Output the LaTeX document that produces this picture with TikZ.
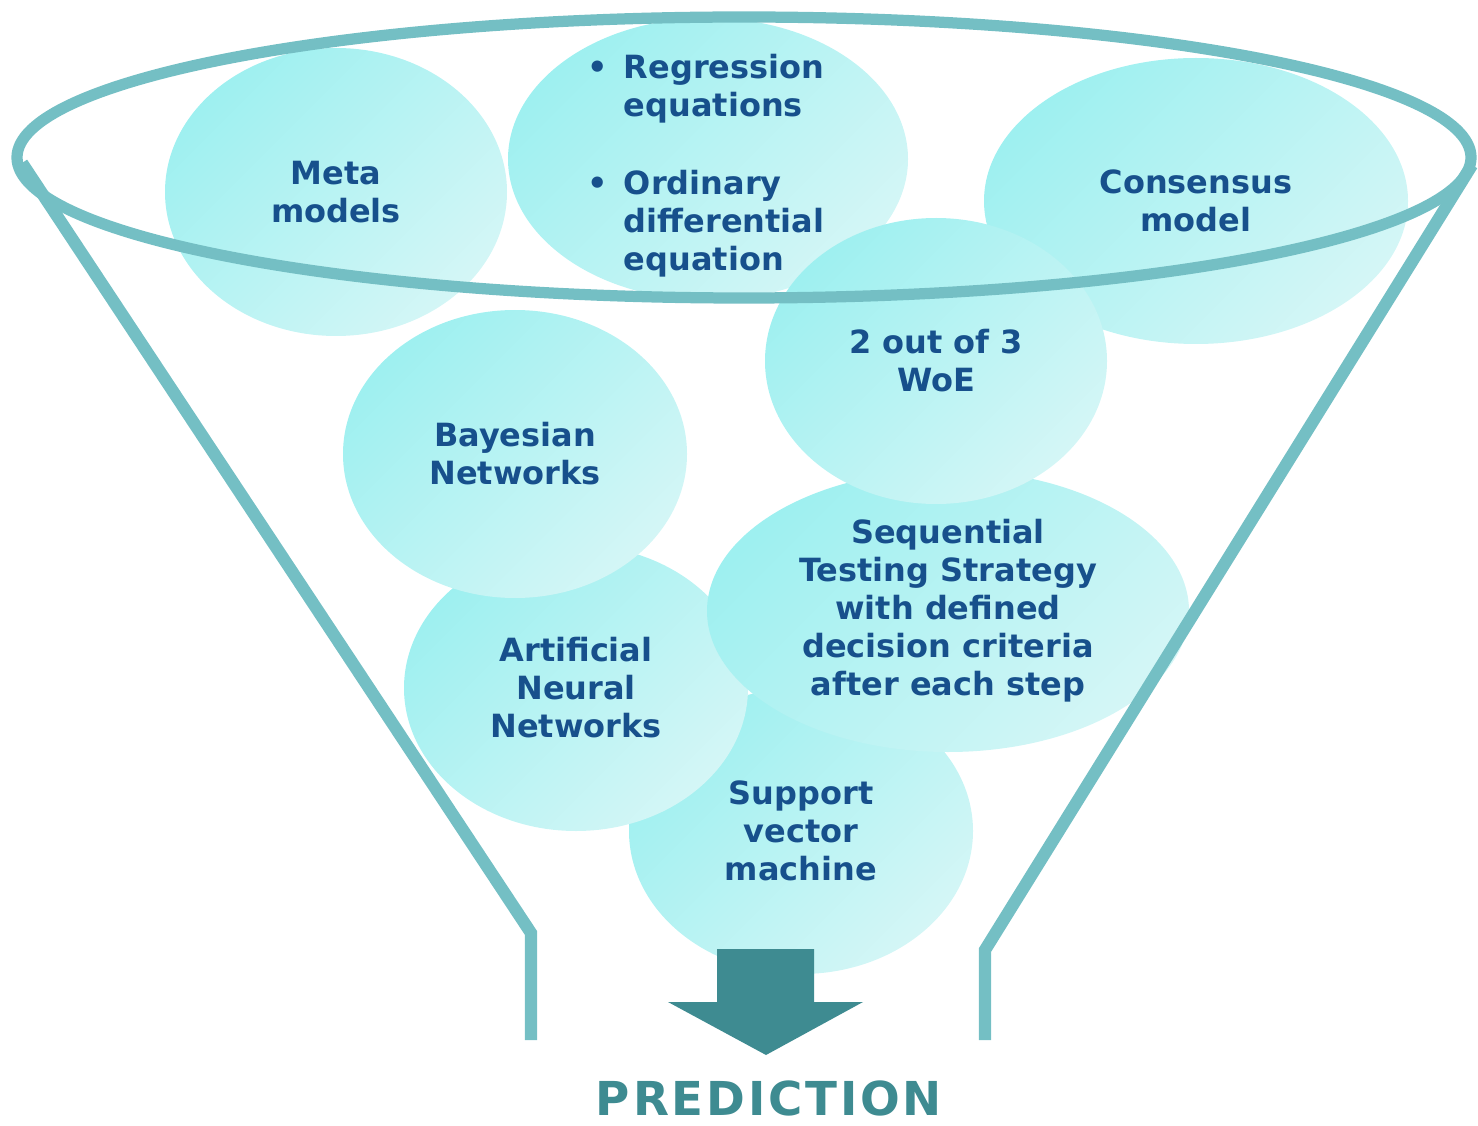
\documentclass[tikz,border=0pt]{standalone}
\usepackage{fontspec}
\setmainfont{DejaVu Sans}
\usepackage{xcolor}
\usetikzlibrary{shapes.geometric}

\definecolor{rimteal}{HTML}{74BFC4}
\definecolor{arrowteal}{HTML}{3E8B91}
\definecolor{bubblecyan}{HTML}{9EF0F0}
\definecolor{bubblepale}{HTML}{D4F6F6}
\definecolor{textblue}{HTML}{17508C}
\newfontfamily\predfont[LetterSpace=6]{DejaVu Sans}

\begin{document}
\begin{tikzpicture}[
  label text/.style={text=textblue, align=center, font=\fontsize{9.1}{10.8}\selectfont\bfseries},
  bubble/.style={label text, ellipse, inner sep=0pt, top color=bubblecyan, bottom color=bubblepale,
    shading angle=45},
  rim/.style={draw=rimteal, line width=3.2pt}
]
  \useasboundingbox (0,0) rectangle (14.78,11.25);

  % the methods, back ones first
  \node[bubble, minimum width=3.42cm, minimum height=2.88cm] (meta) at (3.36,9.33) {Meta\\models};
  \node[bubble, minimum width=4.00cm, minimum height=2.82cm] (regr) at (7.08,9.66) {};
  \node[label text, inner sep=0pt] (regrlist) at (7.06,9.58)
    {\begin{tabular}{@{}c@{\hspace{0.16cm}}l@{}}
      \textbullet & Regression\\
                  & equations\\[0.4cm]
      \textbullet & Ordinary\\
                  & differential\\
                  & equation
    \end{tabular}};
  \node[bubble, minimum width=4.24cm, minimum height=2.86cm] (cons) at (11.96,9.24) {Consensus\\model};
  \node[bubble, minimum width=3.44cm, minimum height=2.86cm] (svm) at (8.01,2.94) {Support\\vector\\machine};
  \node[bubble, minimum width=3.44cm, minimum height=2.86cm] (ann) at (5.76,4.37) {Artificial\\Neural\\Networks};
  \node[bubble, minimum width=3.44cm, minimum height=2.88cm] (bayes) at (5.15,6.71) {Bayesian\\Networks};
  \node[bubble, minimum width=4.82cm, minimum height=2.82cm] (seq) at (9.48,5.14)
    {Sequential\\Testing Strategy\\with defined\\decision criteria\\after each step};
  \node[bubble, minimum width=3.42cm, minimum height=2.86cm] (woe) at (9.36,7.64) {2 out of 3\\WoE};

  % funnel
  \draw[rim] (7.44,9.675) ellipse (7.27 and 1.405);
  \draw[rim, line width=3.5pt] (0.22,9.62) -- (5.31,1.92) -- (5.31,0.85);
  \draw[rim, line width=3.5pt] (14.72,9.60) -- (9.85,1.75) -- (9.85,0.85);

  % output arrow
  \fill[arrowteal] (7.17,1.76) -- (8.14,1.76) -- (8.14,1.23) -- (8.63,1.23)
    -- (7.66,0.70) -- (6.68,1.23) -- (7.17,1.23) -- cycle;
  \node[inner sep=0pt, text=arrowteal, font=\predfont\bfseries\fontsize{13.3}{16}\selectfont] (pred) at (7.69,0.27) {PREDICTION};
\end{tikzpicture}
\end{document}
